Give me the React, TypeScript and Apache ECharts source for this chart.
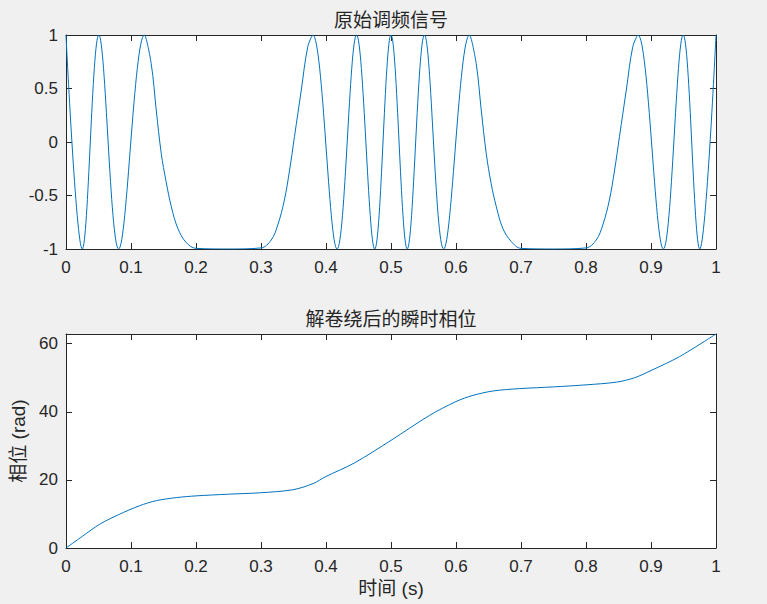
import { useEffect, useRef } from 'react';
import * as echarts from 'echarts';

// 原始调频信号：读图得到的时间点与幅值
const sigT = [
  0, 0.025, 0.0505, 0.081, 0.1208, 0.131, 0.1388, 0.1465, 0.154, 0.162, 0.172, 0.185, 0.2, 0.25,
  0.3, 0.3157, 0.3258, 0.336, 0.344, 0.3515, 0.362, 0.372, 0.3797, 0.417, 0.447, 0.475, 0.5,
  0.525, 0.5515, 0.581, 0.6208, 0.631, 0.6388, 0.6465, 0.654, 0.662, 0.672, 0.685, 0.7, 0.75,
  0.8, 0.8157, 0.8258, 0.836, 0.844, 0.8515, 0.862, 0.872, 0.88, 0.919, 0.9495, 0.975, 1,
];
const sigV = [
  1, -1, 1, -1, 1, 0.735, 0.3, -0.106, -0.37, -0.604, -0.807, -0.94, -0.994, -1,
  -0.99, -0.916, -0.776, -0.542, -0.262, 0.05, 0.486, 0.891, 1, -1, 1, -1, 1,
  -1, 1, -1, 1, 0.735, 0.3, -0.106, -0.386, -0.604, -0.807, -0.93, -0.994, -1,
  -0.99, -0.916, -0.776, -0.542, -0.262, 0.05, 0.486, 0.891, 1, -1, 1, -1, 1,
];

// 解卷绕后的瞬时相位 (rad)
const phaseT = [
  0, 0.025, 0.052, 0.081, 0.113, 0.139, 0.17, 0.2, 0.25, 0.298, 0.349, 0.38, 0.4, 0.444,
  0.5, 0.559, 0.6, 0.626, 0.657, 0.698, 0.75, 0.8, 0.847, 0.875, 0.9, 0.944, 1,
];
const phaseV = [
  0, 3.4, 7.0, 9.8, 12.4, 13.9, 14.8, 15.3, 15.8, 16.2, 17.1, 18.9, 21.0, 25.0,
  31.6, 38.9, 43.0, 44.8, 46.1, 46.8, 47.3, 47.9, 48.7, 50.0, 52.1, 56.2, 62.83,
];

const xTicks = { min: 0, max: 1, interval: 0.1 };
const topY = { min: -1, max: 1, interval: 0.5 };
const botY = { min: 0, max: 62.83, interval: 20 };

const AXIS = '#262626';
const LINE = '#0072BD';
const FONT = '"Liberation Sans", Arial, "Noto Sans CJK SC", sans-serif';
const CJK = '"Liberation Sans", "Noto Sans CJK SC", sans-serif';

const App: React.FC = () => {
  const chartRef = useRef<HTMLDivElement>(null);

  useEffect(() => {
    if (!chartRef.current) return;
    const chart = echarts.init(chartRef.current, null, { renderer: 'svg' });

    const axisLine = { show: true, onZero: false, lineStyle: { color: AXIS, width: 1 } };
    const tick = { show: true, inside: true, length: 6, lineStyle: { color: AXIS, width: 1 } };
    const label = { color: AXIS, fontSize: 17, fontFamily: FONT };

    const xAxisFor = (gridIndex: number, withName: boolean) => [
      {
        type: 'value',
        gridIndex,
        position: 'bottom',
        ...xTicks,
        axisLine,
        axisTick: tick,
        splitLine: { show: false },
        axisLabel: { ...label, margin: 10 },
        ...(withName
          ? {
              name: '时间 (s)',
              nameLocation: 'middle',
              nameGap: 31,
              nameTextStyle: { color: AXIS, fontSize: 19, fontFamily: CJK },
            }
          : {}),
      },
      {
        type: 'value',
        gridIndex,
        position: 'top',
        ...xTicks,
        axisLine,
        axisTick: tick,
        splitLine: { show: false },
        axisLabel: { show: false },
      },
    ];

    const yAxisFor = (gridIndex: number, range: typeof topY, name?: string) => [
      {
        type: 'value',
        gridIndex,
        position: 'left',
        ...range,
        axisLine,
        axisTick: tick,
        splitLine: { show: false },
        axisLabel: {
          ...label,
          margin: 8,
          showMaxLabel: range.max % range.interval === 0,
          formatter: (v: number) => (Math.abs(v / range.interval - Math.round(v / range.interval)) < 1e-6 ? String(v) : ''),
        },
        ...(name
          ? {
              name,
              nameLocation: 'middle',
              nameGap: 33,
              nameRotate: 90,
              nameTextStyle: { color: AXIS, fontSize: 19, fontFamily: CJK },
            }
          : {}),
      },
      {
        type: 'value',
        gridIndex,
        position: 'right',
        ...range,
        axisLine,
        axisTick: tick,
        splitLine: { show: false },
        axisLabel: { show: false },
      },
    ];

    const option = {
      animation: false,
      backgroundColor: '#f0f0f0',
      title: [
        {
          text: '原始调频信号',
          left: 391,
          top: 11,
          textAlign: 'center',
          padding: 0,
          textStyle: { color: AXIS, fontSize: 19, fontWeight: 'normal', fontFamily: CJK },
        },
        {
          text: '解卷绕后的瞬时相位',
          left: 391,
          top: 310,
          textAlign: 'center',
          padding: 0,
          textStyle: { color: AXIS, fontSize: 19, fontWeight: 'normal', fontFamily: CJK },
        },
      ],
      grid: [
        { left: 66, top: 35, width: 650, height: 214, show: true, backgroundColor: '#fff', borderWidth: 0 },
        { left: 66, top: 334, width: 650, height: 214, show: true, backgroundColor: '#fff', borderWidth: 0 },
      ],
      xAxis: [...xAxisFor(0, false), ...xAxisFor(1, true)],
      yAxis: [...yAxisFor(0, topY), ...yAxisFor(1, botY, '相位 (rad)')],
      series: [
        {
          type: 'line',
          xAxisIndex: 0,
          yAxisIndex: 0,
          data: sigT.map((t, i) => [t, sigV[i]]),
          smooth: 0.36,
          symbol: 'none',
          lineStyle: { color: LINE, width: 1 },
        },
        {
          type: 'line',
          xAxisIndex: 2,
          yAxisIndex: 2,
          data: phaseT.map((t, i) => [t, phaseV[i]]),
          smooth: 0.3,
          symbol: 'none',
          lineStyle: { color: LINE, width: 1 },
        },
      ],
    };

    chart.setOption(option);

    return () => {
      chart.dispose();
    };
  }, []);

  return (
    <div
      ref={chartRef}
      style={{ position: 'absolute', left: 0, top: 0, width: '767px', height: '604px' }}
    />
  );
};

export default App;
